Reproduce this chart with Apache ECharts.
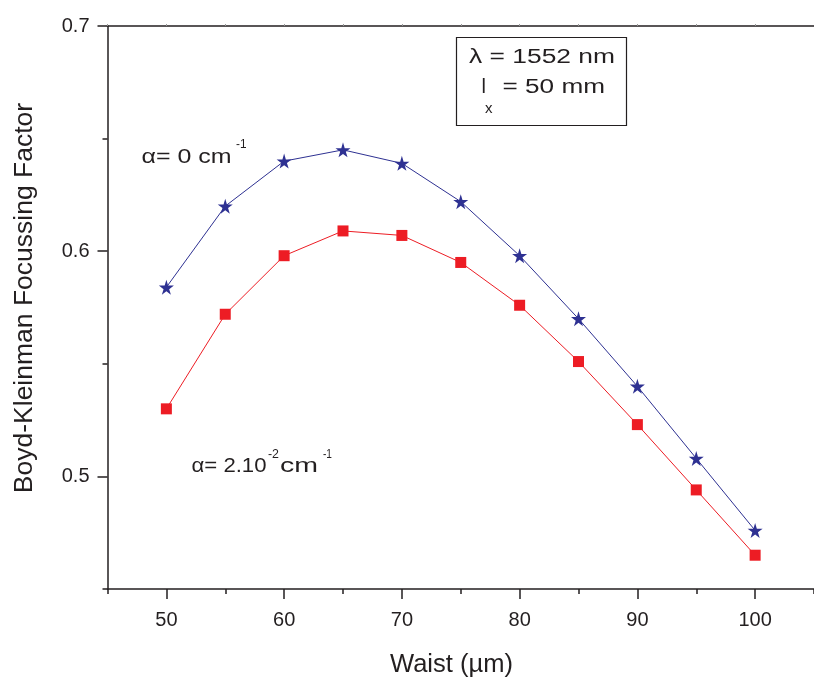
<!DOCTYPE html>
<html>
<head>
<meta charset="utf-8">
<script src="https://cdn.jsdelivr.net/npm/echarts@6/dist/echarts.min.js"></script>
<style>html,body{margin:0;padding:0;background:#fff}#c{width:814px;height:682px}</style>
</head>
<body>
<div id="c"></div>
<script>
const waist = [50, 55, 60, 65, 70, 75, 80, 85, 90, 95, 100];
const alphaZero = [0.584, 0.620, 0.640, 0.645, 0.639, 0.622, 0.598, 0.570, 0.540, 0.508, 0.476];
const alphaTwo = [0.530, 0.572, 0.598, 0.609, 0.607, 0.595, 0.576, 0.551, 0.523, 0.494, 0.465];
const xMajorTicks = [50, 60, 70, 80, 90, 100];
const yMajorTicks = [0.5, 0.6, 0.7];

const FONT = '"Liberation Sans", Arial, Helvetica, sans-serif';
const AX = '#231f20';
const STAR = 'path://M50,0 L61,35 L98,35 L68,57 L79,91 L50,70 L21,91 L32,57 L2,35 L39,35 Z';

const mctx = document.createElement('canvas').getContext('2d');
function measure(s, size) { mctx.font = size + 'px ' + FONT; return mctx.measureText(s).width; }
// text placed by left edge and baseline, optionally stretched to a target width
function txt(s, size, left, baseline, width) {
  const sx = width ? width / measure(s, size) : 1;
  return {
    type: 'text', x: left, y: baseline - 0.32 * size, scaleX: sx,
    style: {text: s, fontSize: size, fontFamily: FONT, fill: AX, align: 'left', verticalAlign: 'middle'}
  };
}

const chart = echarts.init(document.getElementById('c'), null, {renderer: 'canvas'});
const base = {type: 'value', min: 45, max: 105, interval: 5, splitLine: {show: false}};
const ybase = {type: 'value', min: 0.45, max: 0.7, interval: 0.05, splitLine: {show: false}};
chart.setOption({
  animation: false,
  backgroundColor: '#fff',
  grid: {left: 107.5, top: 26, width: 716.5, height: 563, containLabel: false},
  xAxis: [
    Object.assign({}, base, {
      position: 'bottom',
      axisLine: {show: true, lineStyle: {color: AX, width: 1.5}},
      axisTick: {show: true, inside: false, length: 10, customValues: xMajorTicks, lineStyle: {color: AX, width: 1.5}},
      axisLabel: {show: true, customValues: xMajorTicks, margin: 21, fontSize: 20, color: AX, fontFamily: FONT}
    }),
    Object.assign({}, base, {
      position: 'bottom',
      axisLine: {show: false},
      axisTick: {show: true, inside: false, length: 5, lineStyle: {color: AX, width: 1.5}},
      axisLabel: {show: false}
    }),
    Object.assign({}, base, {
      position: 'top',
      axisLine: {show: true, lineStyle: {color: AX, width: 1.5}},
      axisTick: {show: true, inside: false, length: 2, lineStyle: {color: '#999', width: 1}},
      axisLabel: {show: false}
    })
  ],
  yAxis: [
    Object.assign({}, ybase, {
      position: 'left',
      axisLine: {show: true, lineStyle: {color: AX, width: 1.5}},
      axisTick: {show: true, inside: false, length: 10, customValues: yMajorTicks, lineStyle: {color: AX, width: 1.5}},
      axisLabel: {show: true, customValues: yMajorTicks, margin: 18, fontSize: 20, color: AX, fontFamily: FONT,
        formatter: v => v.toFixed(1)}
    }),
    Object.assign({}, ybase, {
      position: 'left',
      axisLine: {show: false},
      axisTick: {show: true, inside: false, length: 5, lineStyle: {color: AX, width: 1.5}},
      axisLabel: {show: false}
    })
  ],
  series: [
    {
      name: 'alpha0', type: 'line', xAxisIndex: 0, yAxisIndex: 0,
      data: waist.map((w, i) => [w, alphaZero[i]]),
      symbol: STAR, symbolSize: 15,
      lineStyle: {color: '#2e3192', width: 1},
      itemStyle: {color: '#2e3192'}
    },
    {
      name: 'alpha2', type: 'line', xAxisIndex: 0, yAxisIndex: 0,
      data: waist.map((w, i) => [w, alphaTwo[i]]),
      symbol: 'rect', symbolSize: 11,
      lineStyle: {color: '#ed1c24', width: 1},
      itemStyle: {color: '#ed1c24'}
    }
  ],
  graphic: [
    txt('Waist (\u00b5m)', 25, 390, 673, 123),
    {
      type: 'text', x: 25, y: 298, rotation: Math.PI / 2,
      style: {text: 'Boyd-Kleinman Focussing Factor', fontSize: 26.5, fontFamily: FONT, fill: AX, align: 'center', verticalAlign: 'middle'}
    },
    {type: 'rect', shape: {x: 456.5, y: 37.5, width: 170, height: 88}, style: {fill: '#fff', stroke: AX, lineWidth: 1.2}},
    txt('\u03bb = 1552 nm', 20, 469, 63.5, 146),
    txt('l', 20, 481.5, 94),
    txt('x', 15, 485, 114),
    txt('= 50 mm', 20, 502.5, 94, 102.5),
    txt('\u03b1= 0 cm', 21, 141.5, 163.5, 90),
    txt('-1', 12, 236, 148.5, 10.5),
    txt('\u03b1= 2.10', 21, 191.5, 472.5, 75),
    txt('-2', 12, 268, 459, 11),
    txt('cm', 21, 280, 472.5, 38),
    txt('-1', 12, 323, 459, 9)
  ]
});
</script>
</body>
</html>
